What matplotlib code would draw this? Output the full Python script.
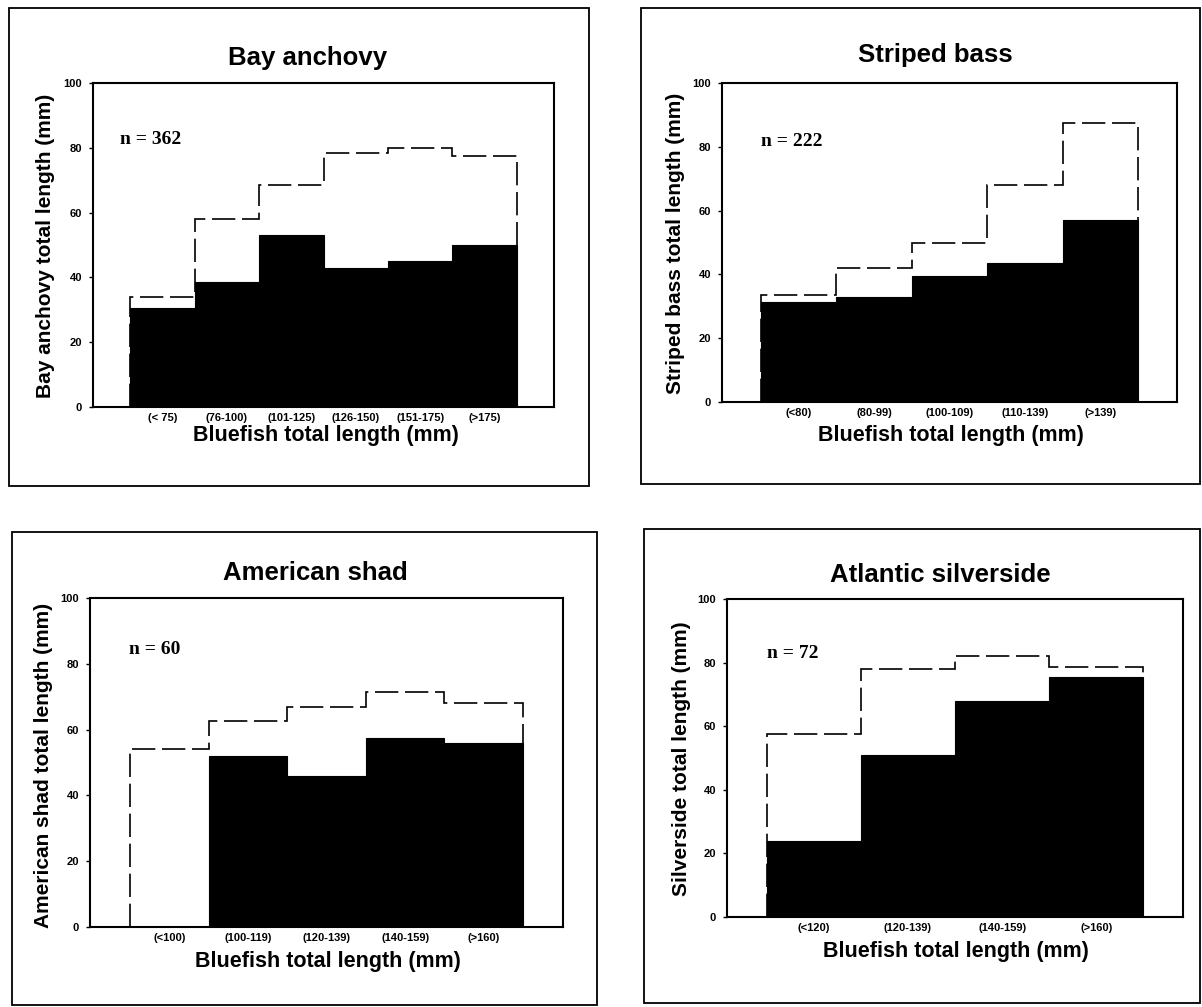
import matplotlib.pyplot as plt
import numpy as np
from matplotlib.patches import Rectangle

plt.rcParams['font.family'] = 'Liberation Sans'
plt.rcParams['font.weight'] = 'bold'

W, H = 1202, 1007

# Bay anchovy
anchovy_bins = ["(< 75)", "(76-100)", "(101-125)", "(126-150)", "(151-175)", "(>175)"]
anchovy_mean = [30.5, 38.5, 53, 43, 45, 50]
anchovy_max = [34, 58, 68.5, 78.5, 80, 77.5]

# Striped bass
bass_bins = ["(<80)", "(80-99)", "(100-109)", "(110-139)", "(>139)"]
bass_mean = [31.5, 33, 39.5, 43.5, 57]
bass_max = [33.5, 42, 50, 68, 87.5]

# American shad
shad_bins = ["(<100)", "(100-119)", "(120-139)", "(140-159)", "(>160)"]
shad_mean = [0, 52, 46, 57.5, 56]
shad_max = [54, 62.5, 67, 71.5, 68]

# Atlantic silverside
silver_bins = ["(<120)", "(120-139)", "(140-159)", "(>160)"]
silver_mean = [24, 51, 68, 75.5]
silver_max = [57.5, 78, 82, 78.5]


def px(x, y):
    return x / W, 1 - y / H


fig = plt.figure(figsize=(W / 100, H / 100), dpi=100)

panels = [
    # title, ylabel, n, bins, mean, max, axes px (l, t, r, b), margin, box px, title xy, xlabel xy, ylabel xy, n xy
    ("Bay anchovy", "Bay anchovy total length (mm)", "n = 362",
     anchovy_bins, anchovy_mean, anchovy_max,
     (93, 83, 554, 407), 0.58, (9, 8, 589, 486),
     (308, 58), (326, 436), (46, 246), (120, 140)),
    ("Striped bass", "Striped bass total length (mm)", "n = 222",
     bass_bins, bass_mean, bass_max,
     (722, 83, 1177, 402), 0.51, (641, 8, 1200, 484),
     (935, 55), (951, 435), (676, 243), (761, 142)),
    ("American shad", "American shad total length (mm)", "n = 60",
     shad_bins, shad_mean, shad_max,
     (90, 598, 563, 927), 0.51, (12, 532, 597, 1005),
     (315, 573), (328, 962), (44, 765), (129, 650)),
    ("Atlantic silverside", "Silverside total length (mm)", "n = 72",
     silver_bins, silver_mean, silver_max,
     (727, 599, 1183, 917), 0.42, (644, 529, 1200, 1003),
     (940, 575), (956, 952), (681, 759), (767, 653)),
]

for (title, ylab, ntxt, bins, mean, mx, axpx, margin, box,
     tpos, xlpos, ylpos, npos) in panels:
    l, t, r, b = axpx
    x0, y0 = px(l, b)
    ax = fig.add_axes([x0, y0, (r - l) / W, (b - t) / H])

    n = len(bins)
    x = np.arange(n)
    edges = np.arange(n + 1) - 0.5
    ax.stairs(mx, edges, baseline=0, fill=False, color='black',
              linewidth=1.2, linestyle=(0, (14, 4)), zorder=2)
    ax.bar(x, mean, width=1.0, color='black', edgecolor='black',
           linewidth=0.8, zorder=3)

    ax.set_xlim(-0.5 - margin, n - 0.5 + margin)
    ax.set_ylim(0, 100)
    ax.set_yticks(np.arange(0, 101, 20))
    ax.set_xticks(x, bins)
    ax.tick_params(axis='x', length=0, pad=4, labelsize=8)
    ax.tick_params(axis='y', length=3, width=1, direction='out', pad=5, labelsize=8)
    for lab in ax.get_xticklabels() + ax.get_yticklabels():
        lab.set_fontweight('bold')
    for s in ax.spines.values():
        s.set_linewidth(1.5)

    fig.text(*px(*tpos), title, fontsize=18.5, fontweight='bold',
             ha='center', va='center')
    fig.text(*px(*xlpos), "Bluefish total length (mm)", fontsize=15.5,
             fontweight='bold', ha='center', va='center')
    fig.text(*px(*ylpos), ylab, fontsize=15, fontweight='bold',
             rotation=90, ha='center', va='center')
    fig.text(*px(*npos), ntxt, fontsize=14, fontweight='bold',
             family='Liberation Serif', ha='left', va='center')

    bx0, by0 = px(box[0], box[3])
    fig.patches.append(Rectangle((bx0, by0), (box[2] - box[0]) / W,
                                 (box[3] - box[1]) / H, transform=fig.transFigure,
                                 fill=False, edgecolor='black', linewidth=1.3))

fig.savefig('out.png', dpi=100, facecolor='white')
